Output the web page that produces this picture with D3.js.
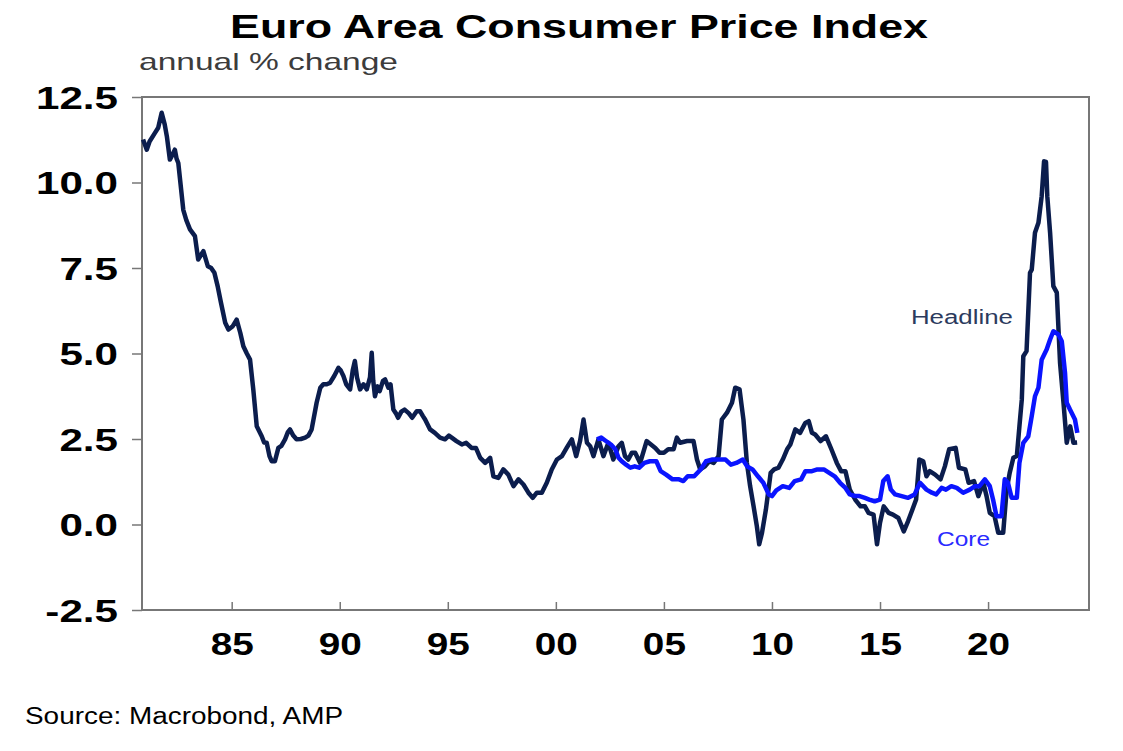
<!DOCTYPE html>
<html>
<head>
<meta charset="utf-8">
<script src="https://cdn.jsdelivr.net/npm/d3@7"></script>
<style>
  body { margin: 0; background: #fff; }
  text { font-family: "Liberation Sans", Arial, sans-serif; }
</style>
</head>
<body>
<svg id="chart" width="1123" height="751"></svg>
<script>
// Euro area HICP, annual % change
const headlineYears = [
  1980.9, 1981.07, 1981.2, 1981.45, 1981.6, 1981.76, 1981.9, 1982.0, 1982.14, 1982.25,
  1982.37, 1982.45, 1982.53, 1982.76, 1982.9, 1983.07, 1983.3, 1983.45, 1983.6, 1983.69,
  1983.9, 1984.05, 1984.2, 1984.35, 1984.5, 1984.7, 1984.85, 1985.05, 1985.23, 1985.4,
  1985.54, 1985.7, 1985.85, 1986.0, 1986.16, 1986.39, 1986.5, 1986.62, 1986.75, 1986.85,
  1987.0, 1987.16, 1987.3, 1987.47, 1987.6, 1987.7, 1987.85, 1988.0, 1988.2, 1988.4,
  1988.55, 1988.7, 1988.93, 1989.1, 1989.24, 1989.4, 1989.55, 1989.75, 1989.94, 1990.05,
  1990.17, 1990.3, 1990.48, 1990.6, 1990.7, 1990.8, 1990.94, 1991.1, 1991.25, 1991.4,
  1991.48, 1991.55, 1991.63, 1991.75, 1991.85, 1992.0, 1992.1, 1992.25, 1992.35, 1992.48,
  1992.6, 1992.7, 1992.85, 1993.0, 1993.2, 1993.35, 1993.56, 1993.72, 1993.85, 1993.95,
  1994.18, 1994.4, 1994.64, 1994.87, 1995.05, 1995.18, 1995.4, 1995.65, 1995.85, 1996.1,
  1996.3, 1996.5, 1996.73, 1996.96, 1997.11, 1997.34, 1997.57, 1997.8, 1998.04, 1998.27,
  1998.5, 1998.73, 1998.93, 1999.12, 1999.35, 1999.58, 1999.81, 2000.05, 2000.28, 2000.5,
  2000.74, 2000.94, 2001.12, 2001.28, 2001.44, 2001.59, 2001.74, 2001.97, 2002.2, 2002.43,
  2002.66, 2002.9, 2003.05, 2003.2, 2003.35, 2003.52, 2003.67, 2003.9, 2004.2, 2004.4,
  2004.6, 2004.8, 2005.0, 2005.2, 2005.45, 2005.6, 2005.75, 2006.07, 2006.37, 2006.53,
  2006.68, 2006.9, 2007.1, 2007.3, 2007.53, 2007.68, 2007.92, 2008.15, 2008.3, 2008.5,
  2008.6, 2008.68, 2008.84, 2008.99, 2009.15, 2009.3, 2009.41, 2009.54, 2009.72, 2009.94,
  2010.1, 2010.3, 2010.5, 2010.7, 2010.85, 2011.08, 2011.3, 2011.54, 2011.7, 2011.85,
  2012.0, 2012.25, 2012.5, 2012.75, 2013.0, 2013.2, 2013.4, 2013.6, 2013.85, 2014.1,
  2014.3, 2014.47, 2014.7, 2014.86, 2015.0, 2015.17, 2015.4, 2015.6, 2015.85, 2016.1,
  2016.3, 2016.5, 2016.67, 2016.82, 2017.0, 2017.15, 2017.3, 2017.55, 2017.8, 2018.0,
  2018.2, 2018.5, 2018.65, 2018.95, 2019.1, 2019.35, 2019.55, 2019.78, 2019.93, 2020.08,
  2020.3, 2020.47, 2020.7, 2020.86, 2021.0, 2021.17, 2021.33, 2021.45, 2021.56, 2021.63,
  2021.78, 2021.94, 2022.02, 2022.17, 2022.33, 2022.48, 2022.59, 2022.68, 2022.74, 2022.87,
  2023.02, 2023.18, 2023.33, 2023.49, 2023.64, 2023.8, 2023.95, 2024.12
]
const headlineValues = [
  11.26, 10.96, 11.2, 11.45, 11.6, 12.04, 11.7, 11.35, 10.67, 10.8,
  10.96, 10.7, 10.57, 9.2, 8.9, 8.63, 8.43, 7.75, 7.9, 7.99,
  7.55, 7.5, 7.36, 6.97, 6.5, 5.9, 5.7, 5.8, 5.99, 5.6,
  5.21, 5.0, 4.82, 3.95, 2.87, 2.58, 2.4, 2.39, 2.0, 1.85,
  1.85, 2.24, 2.3, 2.49, 2.7, 2.78, 2.6, 2.49, 2.5, 2.54,
  2.6, 2.78, 3.56, 4.0, 4.1, 4.1, 4.14, 4.35, 4.58, 4.5,
  4.34, 4.1, 3.95, 4.5, 4.78, 4.3, 3.95, 4.1, 3.95, 4.3,
  5.02, 4.2, 3.75, 4.04, 3.9, 4.2, 4.24, 4.0, 4.1, 3.36,
  3.25, 3.12, 3.3, 3.36, 3.25, 3.12, 3.31, 3.31, 3.17, 3.07,
  2.78, 2.68, 2.54, 2.49, 2.6, 2.54, 2.44, 2.34, 2.39, 2.24,
  2.24, 1.95, 1.8, 1.95, 1.41, 1.36, 1.61, 1.46, 1.12, 1.32,
  1.17, 0.93, 0.78, 0.93, 0.93, 1.22, 1.61, 1.9, 2.0, 2.24,
  2.49, 2.0, 2.44, 3.07, 2.39, 2.29, 2.0, 2.49, 2.0, 2.39,
  1.9, 2.29, 2.39, 2.0, 1.9, 2.1, 2.1, 1.8, 2.44, 2.34,
  2.24, 2.1, 2.1, 2.2, 2.2, 2.54, 2.39, 2.44, 2.44, 1.9,
  1.61, 1.7, 1.85, 1.8, 2.0, 3.07, 3.27, 3.56, 4.0, 3.95,
  3.46, 3.07, 1.8, 1.12, 0.53, -0.05, -0.58, -0.24, 0.44, 1.51,
  1.61, 1.66, 1.9, 2.2, 2.34, 2.78, 2.68, 2.97, 3.02, 2.68,
  2.63, 2.44, 2.58, 2.2, 1.8, 1.56, 1.56, 1.02, 0.73, 0.53,
  0.53, 0.34, 0.29, -0.58, 0.05, 0.53, 0.34, 0.29, 0.19, -0.2,
  0.1, 0.44, 0.73, 1.9, 1.85, 1.41, 1.56, 1.46, 1.32, 1.7,
  2.2, 2.24, 1.66, 1.61, 1.22, 1.27, 0.83, 1.22, 0.83, 0.34,
  0.24, -0.24, -0.24, 1.02, 1.51, 1.95, 2.0, 2.87, 3.65, 4.92,
  5.07, 7.36, 7.45, 8.53, 8.82, 9.6, 10.62, 10.6, 9.6, 8.53,
  6.97, 6.78, 4.73, 3.56, 2.39, 2.87, 2.39, 2.4
]

const coreYears = [
  2001.9, 2002.1, 2002.3, 2002.55, 2002.75, 2002.9, 2003.05, 2003.25, 2003.45, 2003.65,
  2003.85, 2004.1, 2004.35, 2004.65, 2004.85, 2005.1, 2005.4, 2005.7, 2005.9, 2006.1,
  2006.4, 2006.7, 2006.95, 2007.25, 2007.55, 2007.85, 2008.1, 2008.35, 2008.65, 2008.85,
  2009.1, 2009.35, 2009.6, 2009.85, 2010.0, 2010.2, 2010.5, 2010.8, 2011.05, 2011.35,
  2011.55, 2011.85, 2012.1, 2012.4, 2012.65, 2012.9, 2013.15, 2013.4, 2013.6, 2013.85,
  2014.05, 2014.3, 2014.5, 2014.75, 2015.0, 2015.15, 2015.35, 2015.5, 2015.7, 2016.0,
  2016.3, 2016.6, 2016.85, 2017.15, 2017.4, 2017.6, 2017.85, 2018.05, 2018.3, 2018.55,
  2018.85, 2019.15, 2019.4, 2019.6, 2019.85, 2020.08, 2020.23, 2020.39, 2020.62, 2020.77,
  2020.92, 2021.09, 2021.33, 2021.45, 2021.63, 2021.86, 2022.02, 2022.17, 2022.33, 2022.48,
  2022.71, 2022.87, 2023.02, 2023.25, 2023.41, 2023.56, 2023.64, 2023.79, 2024.02, 2024.13
]
const coreValues = [
  2.49, 2.54, 2.45, 2.34, 2.2, 1.95, 1.85, 1.75, 1.66, 1.7,
  1.66, 1.8, 1.85, 1.85, 1.56, 1.46, 1.32, 1.32, 1.27, 1.41,
  1.41, 1.61, 1.85, 1.9, 1.9, 1.9, 1.75, 1.8, 1.9, 1.7,
  1.61, 1.41, 1.22, 0.88, 0.83, 1.0, 1.12, 1.07, 1.27, 1.32,
  1.56, 1.56, 1.61, 1.61, 1.51, 1.41, 1.22, 1.07, 0.88, 0.83,
  0.83, 0.78, 0.73, 0.68, 0.73, 1.27, 1.41, 1.02, 0.88, 0.83,
  0.78, 0.88, 1.22, 1.02, 0.93, 0.88, 1.07, 1.02, 1.12, 1.07,
  0.93, 1.02, 1.12, 1.12, 1.32, 1.12, 0.73, 0.24, 0.24, 1.32,
  1.22, 0.78, 0.78, 1.8, 2.39, 2.58, 3.17, 3.75, 4.0, 4.82,
  5.12, 5.41, 5.65, 5.56, 5.36, 4.44, 3.56, 3.36, 3.07, 2.68
]

const yTicks = [-2.5, 0, 2.5, 5, 7.5, 10, 12.5]
const xTicks = [1985, 1990, 1995, 2000, 2005, 2010, 2015, 2020]

const margin = {top: 97, right: 34, bottom: 141, left: 142}
const W = 1123, H = 751
const width = W - margin.left - margin.right
const height = H - margin.top - margin.bottom

const navy = '#0b1d4d'
const blue = '#0a14ff'

const svg = d3.select('#chart')

// glyphs in the reference are wider than Arial, stretch them
const stretch = (sel, k) => {
  sel.each(function () {
    const w = this.getComputedTextLength()
    d3.select(this).attr('textLength', w * k).attr('lengthAdjust', 'spacingAndGlyphs')
  })
}

const x = d3.scaleLinear().domain([1980.85, 2024.67]).range([0, width])
const y = d3.scaleLinear().domain([-2.5, 12.5]).range([height, 0])

const g = svg.append('g').attr('transform', `translate(${margin.left},${margin.top})`)

// y axis, ticks outside
const yAxis = g.append('g')
  .call(d3.axisLeft(y).tickValues(yTicks).tickSize(10).tickPadding(14).tickFormat(d => d.toFixed(1)))
yAxis.select('.domain').remove()
yAxis.selectAll('line').attr('stroke', '#777').attr('stroke-width', 1.5)
yAxis.selectAll('text')
  .attr('fill', '#000')
  .style('font-size', '31px')
  .style('font-weight', 'bold')
  .attr('dy', '0.36em')
  .call(stretch, 1.36)

// x axis, ticks inside
const xAxis = g.append('g')
  .attr('transform', `translate(0,${height})`)
  .call(d3.axisBottom(x).tickValues(xTicks).tickSize(-8).tickPadding(23).tickFormat(d => String(d).slice(2)))
xAxis.select('.domain').remove()
xAxis.selectAll('line').attr('stroke', '#777').attr('stroke-width', 1.5)
xAxis.selectAll('text')
  .attr('fill', '#000')
  .style('font-size', '31px')
  .style('font-weight', 'bold')
  .call(stretch, 1.25)

// plot frame
g.append('rect')
  .attr('width', width)
  .attr('height', height)
  .attr('fill', 'none')
  .attr('stroke', '#777')
  .attr('stroke-width', 2)

const headline = headlineYears.map((t, i) => ({t, v: headlineValues[i]}))
const core = coreYears.map((t, i) => ({t, v: coreValues[i]}))

const line = d3.line().x(d => x(d.t)).y(d => y(d.v))

g.append('path')
  .datum(headline)
  .attr('fill', 'none')
  .attr('stroke', navy)
  .attr('stroke-width', 4.5)
  .attr('stroke-linejoin', 'round')
  .attr('d', line)

g.append('path')
  .datum(core)
  .attr('fill', 'none')
  .attr('stroke', blue)
  .attr('stroke-width', 4.5)
  .attr('stroke-linejoin', 'round')
  .attr('d', line)

// series labels
g.append('text')
  .attr('x', x(2016.43)).attr('y', y(5.85))
  .attr('fill', '#2c3b5e')
  .style('font-size', '20px')
  .attr('textLength', 102).attr('lengthAdjust', 'spacingAndGlyphs')
  .text('Headline')

g.append('text')
  .attr('x', x(2017.64)).attr('y', y(-0.64))
  .attr('fill', '#2a2aff')
  .style('font-size', '21px')
  .attr('textLength', 53).attr('lengthAdjust', 'spacingAndGlyphs')
  .text('Core')

// titles
svg.append('text')
  .attr('x', 230).attr('y', 38)
  .style('font-size', '34px')
  .style('font-weight', 'bold')
  .attr('textLength', 698).attr('lengthAdjust', 'spacingAndGlyphs')
  .text('Euro Area Consumer Price Index')

svg.append('text')
  .attr('x', 139).attr('y', 70)
  .attr('fill', '#3c3c3c')
  .style('font-size', '24px')
  .attr('textLength', 259).attr('lengthAdjust', 'spacingAndGlyphs')
  .text('annual % change')

svg.append('text')
  .attr('x', 25).attr('y', 724)
  .style('font-size', '23px')
  .attr('textLength', 318).attr('lengthAdjust', 'spacingAndGlyphs')
  .text('Source: Macrobond, AMP')
</script>
</body>
</html>
